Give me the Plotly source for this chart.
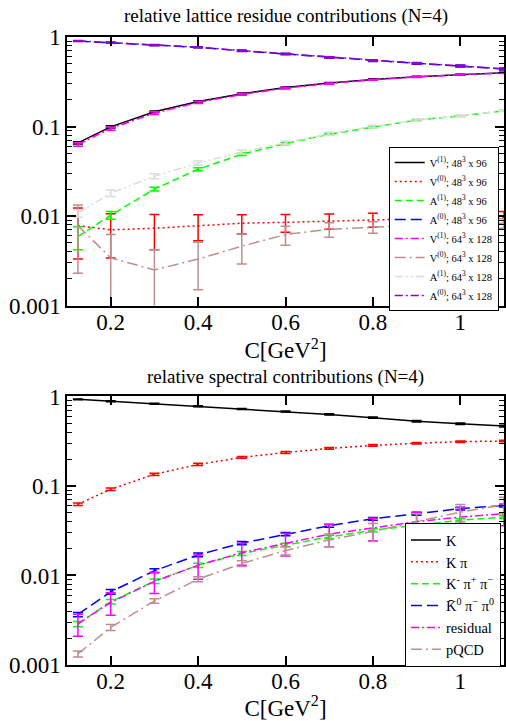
import plotly.graph_objects as go
from plotly.subplots import make_subplots

# ---------------- data ----------------
C = [0.125, 0.2, 0.3, 0.4, 0.5, 0.6, 0.7, 0.8, 0.9, 1.0, 1.1]

# top panel: relative lattice residue contributions
V1_48 = [0.0656, 0.099, 0.146, 0.19, 0.232, 0.272, 0.306, 0.336, 0.36, 0.382, 0.398]
V1_48_err = [0.002, 0.003, 0.003, 0.004, 0.004, 0.004, 0.005, 0.005, 0.005, 0.005, 0.005]
V0_48 = [0.0078, 0.0070, 0.0073, 0.0078, 0.0083, 0.0085, 0.0088, 0.0091, 0.0093, 0.0095, 0.0097]
V0_48_err = [0.0045, 0.0036, 0.0031, 0.0025, 0.0020, 0.0019, 0.0017, 0.0016, 0.0015, 0.0015, 0.0015]
A1_48 = [0.0059, 0.0102, 0.020, 0.0333, 0.049, 0.0645, 0.082, 0.099, 0.118, 0.131, 0.150]
A1_48_err = [0.0017, 0.0010, 0.0010, 0.0012, 0.0015, 0.0018, 0.002, 0.002, 0.002, 0.002, 0.002]
A0_48 = [0.90, 0.865, 0.81, 0.766, 0.70, 0.645, 0.587, 0.543, 0.507, 0.473, 0.438]
A0_48_err = [0.01, 0.01, 0.01, 0.01, 0.01, 0.01, 0.01, 0.01, 0.01, 0.01, 0.01]
V1_64 = [0.063, 0.095, 0.141, 0.186, 0.228, 0.268, 0.302, 0.333, 0.357, 0.38, 0.396]
V1_64_err = [0.003, 0.004, 0.005, 0.005, 0.005, 0.005, 0.005, 0.005, 0.005, 0.005, 0.005]
V0_64 = [0.0078, 0.0034, 0.0025, 0.0033, 0.0046, 0.0062, 0.0071, 0.0075, 0.0079, 0.0081, 0.0083]
V0_64_err = [0.0055, 0.0028, 0.0017, 0.0018, 0.0017, 0.0015, 0.0013, 0.0011, 0.0011, 0.0010, 0.0010]
A1_64 = [0.0107, 0.018, 0.0278, 0.039, 0.052, 0.066, 0.083, 0.100, 0.118, 0.132, 0.150]
A1_64_err = [0.001, 0.0015, 0.0018, 0.0022, 0.0025, 0.003, 0.003, 0.003, 0.003, 0.003, 0.003]
A0_64 = [0.905, 0.87, 0.815, 0.77, 0.705, 0.65, 0.59, 0.546, 0.51, 0.476, 0.44]
A0_64_err = [0.01, 0.01, 0.01, 0.01, 0.01, 0.01, 0.01, 0.01, 0.01, 0.01, 0.01]

# bottom panel: relative spectral contributions
K = [0.93, 0.885, 0.83, 0.78, 0.725, 0.68, 0.63, 0.58, 0.53, 0.496, 0.467]
K_err = [0.01, 0.01, 0.01, 0.01, 0.01, 0.01, 0.01, 0.01, 0.01, 0.01, 0.01]
Kpi = [0.0625, 0.092, 0.135, 0.174, 0.209, 0.237, 0.263, 0.284, 0.30, 0.313, 0.318]
Kpi_err = [0.002, 0.003, 0.004, 0.005, 0.005, 0.006, 0.006, 0.006, 0.006, 0.006, 0.006]
Kmpipi = [0.00287, 0.0051, 0.00865, 0.013, 0.0176, 0.022, 0.027, 0.032, 0.0363, 0.0414, 0.045]
Kmpipi_err = [0.0002, 0.0003, 0.0005, 0.0007, 0.0009, 0.001, 0.0012, 0.0014, 0.0015, 0.0016, 0.0017]
K0pipi = [0.00367, 0.00657, 0.0113, 0.017, 0.023, 0.029, 0.036, 0.043, 0.049, 0.0559, 0.0604]
K0pipi_err = [0.0002, 0.0004, 0.0006, 0.0008, 0.001, 0.0012, 0.0014, 0.0016, 0.0018, 0.002, 0.002]
residual = [0.0029, 0.0050, 0.0086, 0.013, 0.018, 0.023, 0.029, 0.034, 0.040, 0.045, 0.049]
residual_err = [0.0008, 0.0014, 0.0023, 0.0039, 0.005, 0.0065, 0.008, 0.0095, 0.011, 0.012, 0.013]
pQCD = [0.00133, 0.00263, 0.0052, 0.0091, 0.0136, 0.019, 0.025, 0.031, 0.040, 0.051, 0.062]
pQCD_err = [0.0001, 0.0002, 0.0003, 0.0006, 0.001, 0.002, 0.004, 0.007, 0.009, 0.011, 0.013]

Y_TICKS = [0.001, 0.01, 0.1, 1]
Y_TICKTEXT = ["0.001", "0.01", "0.1", "1"]
X_TICKS = [0.2, 0.4, 0.6, 0.8, 1.0]
X_TICKTEXT = ["0.2", "0.4", "0.6", "0.8", "1"]

FONT = "Liberation Serif"

fig = make_subplots(rows=2, cols=1, vertical_spacing=0.1449)

top_series = [
    ("V<sup>(1)</sup>; 48<sup>3</sup> x 96", V1_48, V1_48_err, "black", "solid"),
    ("V<sup>(0)</sup>; 48<sup>3</sup> x 96", V0_48, V0_48_err, "red", "2px,3px"),
    ("A<sup>(1)</sup>; 48<sup>3</sup> x 96", A1_48, A1_48_err, "#00ff00", "7px,4px"),
    ("A<sup>(0)</sup>; 48<sup>3</sup> x 96", A0_48, A0_48_err, "blue", "11px,5px"),
    ("V<sup>(1)</sup>; 64<sup>3</sup> x 128", V1_64, V1_64_err, "#ff00ff", "8px,3px,2px,3px"),
    ("V<sup>(0)</sup>; 64<sup>3</sup> x 128", V0_64, V0_64_err, "#bc8f8f", "11px,4px,2px,4px"),
    ("A<sup>(1)</sup>; 64<sup>3</sup> x 128", A1_64, A1_64_err, "#dcdcdc", "8px,3px,2px,3px,2px,3px"),
    ("A<sup>(0)</sup>; 64<sup>3</sup> x 128", A0_64, A0_64_err, "#9400d3", "8px,3px,2px,3px"),
]

for name, y, err, col, dash in top_series:
    fig.add_trace(go.Scatter(
        x=C, y=y, mode="lines", name=name,
        line=dict(color=col, width=1.5, dash=dash),
        error_y=dict(type="data", array=err, visible=True, color=col, thickness=1.5, width=5),
        legend="legend",
    ), row=1, col=1)

bottom_series = [
    ("K", K, K_err, "black", "solid"),
    ("K π", Kpi, Kpi_err, "red", "2px,3px"),
    ("K<sup>-</sup> π<sup>+</sup> π<sup>−</sup>", Kmpipi, Kmpipi_err, "#00ff00", "7px,4px"),
    ("K\u0304<sup>0</sup> π<sup>−</sup> π<sup>0</sup>", K0pipi, K0pipi_err, "blue", "11px,5px"),
    ("residual", residual, residual_err, "#ff00ff", "8px,3px,2px,3px"),
    ("pQCD", pQCD, pQCD_err, "#bc8f8f", "11px,4px,2px,4px"),
]

for name, y, err, col, dash in bottom_series:
    fig.add_trace(go.Scatter(
        x=C, y=y, mode="lines", name=name,
        line=dict(color=col, width=1.5, dash=dash),
        error_y=dict(type="data", array=err, visible=True, color=col, thickness=1.5, width=5),
        legend="legend2",
    ), row=2, col=1)

minor_vals = [m * 10 ** e for e in (-3, -2, -1) for m in range(2, 10)]

axis_common = dict(showline=True, linecolor="black", linewidth=1.5, mirror="ticks",
                   ticks="inside", tickcolor="black", showgrid=False, zeroline=False,
                   tickfont=dict(family=FONT, size=23, color="black"))

for r in (1, 2):
    fig.update_xaxes(range=[0.1, 1.1], tickvals=X_TICKS, ticktext=X_TICKTEXT,
                     ticklen=9, tickwidth=1.5, ticklabelstandoff=-5,
                     title=dict(text="C[GeV<sup>2</sup>]", font=dict(family=FONT, size=23, color="black"),
                                standoff=5),
                     row=r, col=1, **axis_common)
    fig.update_yaxes(type="log", range=[-3, 0], tickvals=Y_TICKS, ticktext=Y_TICKTEXT,
                     ticklen=9, tickwidth=1.5,
                     minor=dict(tickvals=minor_vals, ticks="inside", ticklen=5, tickwidth=1.2,
                                tickcolor="black", showgrid=False),
                     row=r, col=1, **axis_common)

fig.update_layout(
    width=506, height=721,
    margin=dict(l=67, r=0, t=37, b=56),
    paper_bgcolor="white", plot_bgcolor="white",
    font=dict(family=FONT, color="black"),
    showlegend=True,
    legend=dict(x=0.988, xanchor="right", y=0.825, yanchor="top",
                bgcolor="white", bordercolor="black", borderwidth=1,
                font=dict(family=FONT, size=10.5, color="black"),
                tracegroupgap=0, itemwidth=30),
    legend2=dict(x=0.993, xanchor="right", y=0.226, yanchor="top",
                 bgcolor="white", bordercolor="black", borderwidth=1,
                 font=dict(family=FONT, size=14.5, color="black"),
                 tracegroupgap=0, itemwidth=30),
    annotations=[
        dict(text="relative lattice residue contributions (N=4)", xref="paper", yref="paper",
             x=0.5, y=1.033, xanchor="center", yanchor="middle", showarrow=False,
             font=dict(family=FONT, size=19, color="black")),
        dict(text="relative spectral contributions (N=4)", xref="paper", yref="paper",
             x=0.5, y=0.4586, xanchor="center", yanchor="middle", showarrow=False,
             font=dict(family=FONT, size=19, color="black")),
    ],
)

# remove the browser's default 8px page margin so the figure fills the window exactly
fig.write_html("out.html", config={"displayModeBar": False},
               post_script="document.body.style.margin='0';")
